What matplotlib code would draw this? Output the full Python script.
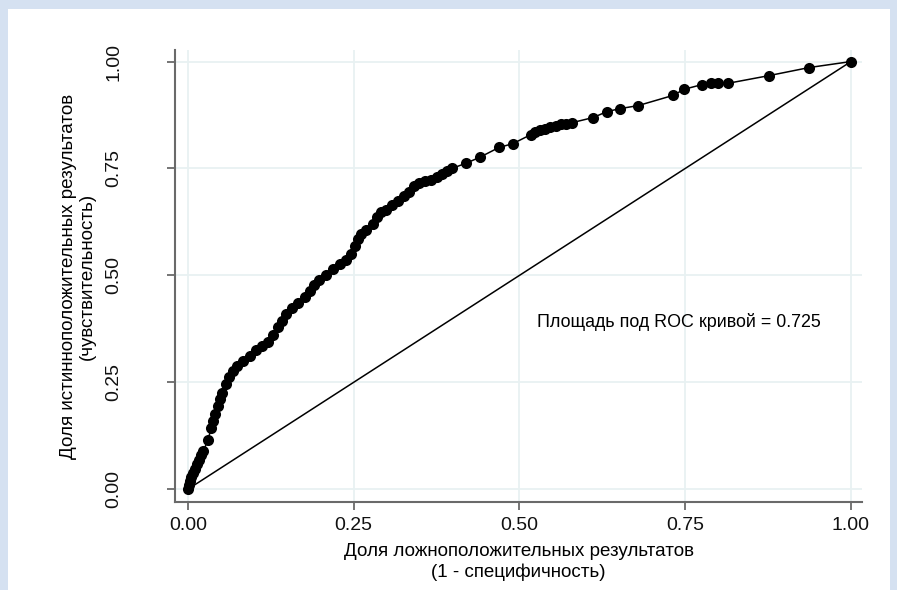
import numpy as np
import matplotlib.pyplot as plt
from matplotlib.patches import Rectangle

plt.rcParams['font.family'] = ['Liberation Sans', 'DejaVu Sans']

# ROC curve points: false positive rate vs true positive rate
fpr = [0.0, 0.0015, 0.003, 0.0045, 0.0075, 0.011, 0.014, 0.017, 0.020, 0.023,
       0.030, 0.035, 0.038, 0.041, 0.045, 0.048, 0.051, 0.057, 0.062, 0.068,
       0.074, 0.083, 0.094, 0.103, 0.112, 0.121, 0.128, 0.136, 0.142, 0.148,
       0.157, 0.166, 0.176, 0.184, 0.190, 0.198, 0.208, 0.219, 0.229, 0.238,
       0.246, 0.252, 0.256, 0.261, 0.268, 0.279, 0.285, 0.291, 0.299, 0.308,
       0.317, 0.326, 0.333, 0.341, 0.348, 0.357, 0.367, 0.376, 0.383, 0.391,
       0.398, 0.419, 0.440, 0.469, 0.490, 0.517, 0.523, 0.531, 0.538, 0.546,
       0.555, 0.563, 0.570, 0.579, 0.611, 0.632, 0.652, 0.679, 0.732, 0.748,
       0.775, 0.789, 0.799, 0.814, 0.876, 0.937, 1.0]
tpr = [0.0, 0.009, 0.019, 0.028, 0.037, 0.047, 0.058, 0.068, 0.079, 0.089,
       0.114, 0.143, 0.159, 0.175, 0.194, 0.210, 0.224, 0.245, 0.262, 0.276,
       0.287, 0.299, 0.311, 0.325, 0.334, 0.343, 0.360, 0.379, 0.393, 0.409,
       0.423, 0.435, 0.449, 0.463, 0.477, 0.488, 0.502, 0.514, 0.526, 0.537,
       0.551, 0.568, 0.586, 0.596, 0.607, 0.619, 0.636, 0.647, 0.654, 0.664,
       0.673, 0.685, 0.696, 0.708, 0.715, 0.720, 0.724, 0.729, 0.736, 0.745,
       0.750, 0.762, 0.776, 0.799, 0.808, 0.829, 0.836, 0.841, 0.843, 0.846,
       0.850, 0.853, 0.855, 0.857, 0.869, 0.883, 0.890, 0.897, 0.921, 0.935,
       0.946, 0.949, 0.949, 0.949, 0.967, 0.986, 1.0]
auc = 0.725
ticks = [0.0, 0.25, 0.5, 0.75, 1.0]
tick_labels = ['0.00', '0.25', '0.50', '0.75', '1.00']

fig = plt.figure(figsize=(8.97, 5.90), dpi=100)
fig.patch.set_facecolor('#d5e1f1')
# white inner panel, blue strip left/top/right
fig.patches.append(Rectangle((8 / 897, 0), 882 / 897, 581 / 590,
                             transform=fig.transFigure, facecolor='white',
                             edgecolor='none', zorder=-10))

ax = fig.add_axes([175 / 897, 1 - 502 / 590, 687 / 897, 452 / 590])
ax.set_facecolor('white')

ax.plot(fpr, tpr, color='black', lw=1.1, marker='o', markersize=8,
        markeredgewidth=0, zorder=3)
ax.plot([0, 1], [0, 1], color='black', lw=1.1, zorder=2)

ax.text(0.526, 0.39, f'Площадь под ROC кривой = {auc}', fontsize=12.9,
        ha='left', va='center')

ax.set_xlim(-0.0196, 1.0166)
ax.set_ylim(-0.03, 1.027)
ax.set_xticks(ticks)
ax.set_xticklabels(tick_labels)
ax.set_yticks(ticks)
ax.set_yticklabels(tick_labels, rotation=90, va='center')
ax.grid(True, color='#e8f1f2', lw=1.3)
ax.set_axisbelow(True)

for s in ['top', 'right']:
    ax.spines[s].set_visible(False)
for s in ['left', 'bottom']:
    ax.spines[s].set_color('#6a6a6a')
    ax.spines[s].set_linewidth(1.5)
ax.tick_params(axis='both', colors='#6a6a6a', length=6, width=1.3,
               labelsize=14, labelcolor='#111111')
ax.tick_params(axis='x', pad=5)
ax.tick_params(axis='y', pad=32)

ax.set_xlabel('Доля ложноположительных результатов\n(1 - специфичность)',
              fontsize=13.5, linespacing=1.3)
ax.xaxis.set_label_coords(0.5, -0.09)
ax.set_ylabel('Доля истинноположительных результатов\n(чувствительность)',
              fontsize=13.5, linespacing=1.15)
ax.yaxis.set_label_coords(-0.115, 0.5)

fig.savefig('out.png', dpi=100, facecolor=fig.get_facecolor())
